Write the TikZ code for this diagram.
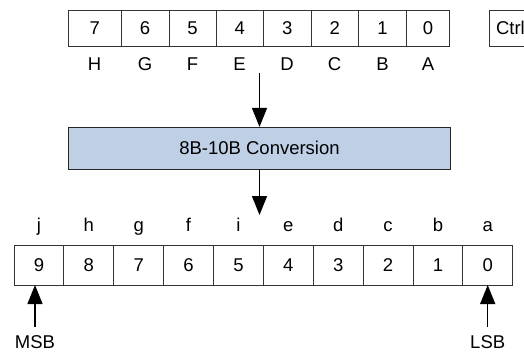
\documentclass[tikz,border=0pt]{standalone}
\usepackage{fontspec}
\setmainfont{Liberation Sans}
\usetikzlibrary{positioning, arrows.meta}
\definecolor{convblue}{HTML}{BFD0E6}
\tikzset{
  cell/.style={draw=black!80,line width=0.8pt,inner sep=0pt,outer sep=0pt,font=\fontsize{18.5}{22}\selectfont},
  bytecell/.style={cell,minimum height=36.7pt},
  codecell/.style={cell,minimum height=40pt,minimum width=49.87pt},
  lbl/.style={inner sep=0pt,text height=13.2pt,text depth=0pt,font=\fontsize{18.5}{22}\selectfont},
  inname/.style={label={[lbl,label distance=10.6pt]below:#1}},
  outname/.style={label={[lbl,label distance=13.3pt]above:#1}},
  block/.style={draw=black!85,line width=0.8pt,fill=convblue,minimum width=382.4pt,minimum height=41.7pt,font=\fontsize{18.5}{22}\selectfont},
  flow/.style={line width=1.3pt,-{Triangle[length=19pt,width=15pt]}},
}

\begin{document}
\begin{tikzpicture}[x=1pt,y=-1pt]
  \useasboundingbox (0,0) rectangle (524,354);
  % input byte
  \node[bytecell,inname=H,minimum width=52.7pt] (t7) at (94.65,28.3) {7};
  \node[bytecell,inname=G,minimum width=48pt,right=0pt of t7] (t6) {6};
  \node[bytecell,inname=F,minimum width=47pt,right=0pt of t6] (t5) {5};
  \node[bytecell,inname=E,minimum width=47.3pt,right=0pt of t5] (t4) {4};
  \node[bytecell,inname=D,minimum width=47.7pt,right=0pt of t4] (t3) {3};
  \node[bytecell,inname=C,minimum width=47.3pt,right=0pt of t3] (t2) {2};
  \node[bytecell,inname=B,minimum width=48.4pt,right=0pt of t2] (t1) {1};
  \node[bytecell,inname=A,minimum width=42.6pt,right=0pt of t1] (t0) {0};
  \node[bytecell,anchor=west,text width=50pt,inner xsep=6.7pt,align=left] (ctrl) at (489.3,28.3) {Ctrl};
  % conversion
  \node[block] (conv) at (259.5,148.15) {8B-10B Conversion};
  \coordinate (split) at (259.5,72.7);
  \coordinate (merge) at (259.5,215);
  \draw[flow] (split) -- (conv.north);
  \draw[flow] (conv.south) -- (merge);
  % output code
  \node[codecell,outname=j] (b9) at (38.93,265) {9};
  \node[codecell,outname=h,right=0pt of b9] (b8) {8};
  \node[codecell,outname=g,right=0pt of b8] (b7) {7};
  \node[codecell,outname=f,right=0pt of b7] (b6) {6};
  \node[codecell,outname=i,right=0pt of b6] (b5) {5};
  \node[codecell,outname=e,right=0pt of b5] (b4) {4};
  \node[codecell,outname=d,right=0pt of b4] (b3) {3};
  \node[codecell,outname=c,right=0pt of b3] (b2) {2};
  \node[codecell,outname=b,right=0pt of b2] (b1) {1};
  \node[codecell,outname=a,right=0pt of b1] (b0) {0};
  \node[lbl,inner ysep=7.8pt] (msb) at (35,341.7) {MSB};
  \node[lbl,inner ysep=7.8pt] (lsb) at (487.7,341.7) {LSB};
  \draw[flow] (msb.north) -- (msb.north |- b9.south);
  \draw[flow] (lsb.north) -- (lsb.north |- b0.south);
\end{tikzpicture}
\end{document}
